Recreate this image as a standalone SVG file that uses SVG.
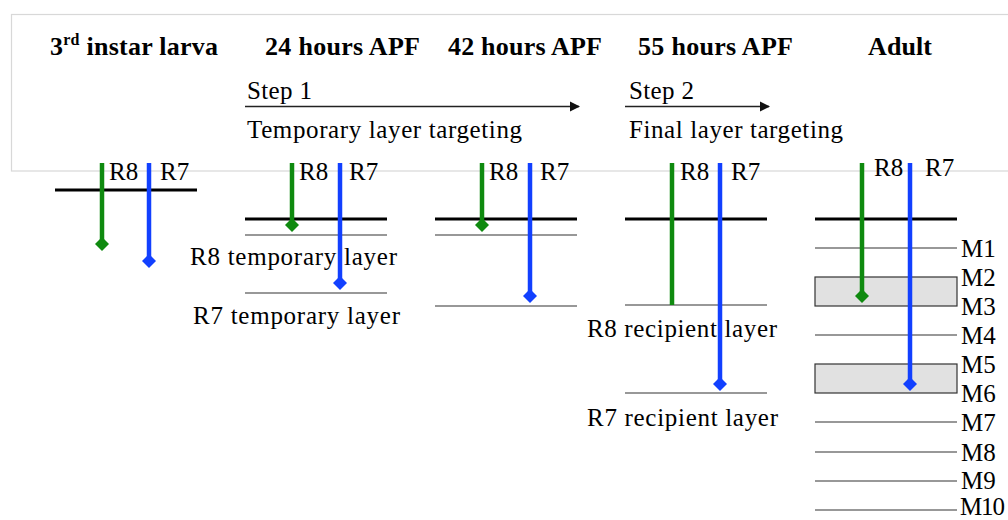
<svg xmlns="http://www.w3.org/2000/svg" width="1008" height="520" viewBox="0 0 1008 520">
<style>
.hd{font-family:"Liberation Serif","Times New Roman",serif;font-weight:bold;font-size:26px;fill:#000}
.tx{font-family:"Liberation Serif","Times New Roman",serif;font-size:25px;fill:#000}
.ul{stroke:#333;stroke-width:1.5;filter:url(#sh)}
.thick{stroke:#000;stroke-width:3}
.thin{stroke:#333;stroke-width:1.2}
.g{stroke:#0f8a0f;stroke-width:4.5;marker-end:url(#dg)}
.gn{stroke:#0f8a0f;stroke-width:4.5}
.b{stroke:#1240ff;stroke-width:4.5;marker-end:url(#db)}
.band{fill:#e1e1e1;stroke:#333;stroke-width:1.2}
.arr{stroke:#222;stroke-width:1.5;marker-end:url(#ah)}
</style>
<defs>
<filter id="sh" x="-5%" y="-200%" width="110%" height="500%">
<feDropShadow dx="0" dy="2" stdDeviation="1" flood-color="#000" flood-opacity="0.25"/>
</filter>
<marker id="dg" markerUnits="userSpaceOnUse" markerWidth="16" markerHeight="16" refX="8" refY="8" orient="0" viewBox="0 0 16 16">
<path d="M8 1 L15 8 L8 15 L1 8 Z" fill="#0f8a0f"/>
</marker>
<marker id="db" markerUnits="userSpaceOnUse" markerWidth="16" markerHeight="16" refX="8" refY="8" orient="0" viewBox="0 0 16 16">
<path d="M8 1 L15 8 L8 15 L1 8 Z" fill="#1240ff"/>
</marker>
<marker id="ah" markerUnits="userSpaceOnUse" markerWidth="12" markerHeight="12" refX="9" refY="5" orient="auto" viewBox="0 0 12 10">
<path d="M0 0 L10 5 L0 10 Z" fill="#111"/>
</marker>
</defs>
<rect width="1008" height="520" fill="#fff"/>
<rect x="11.5" y="14.5" width="1010" height="156.5" fill="none" stroke="#d8d8d8" stroke-width="1.2"/>

<g id="header-larva">
<text class="hd" x="50" y="55" textLength="168">3<tspan font-size="16" dy="-10">rd</tspan><tspan dy="10"> instar larva</tspan></text>
<line class="ul" x1="55" y1="64" x2="197" y2="64"/>
</g>
<g id="header-24h">
<text class="hd" x="265" y="55" textLength="155">24 hours APF</text>
<line class="ul" x1="245" y1="64" x2="387" y2="64"/>
</g>
<g id="header-42h">
<text class="hd" x="448" y="55" textLength="154">42 hours APF</text>
<line class="ul" x1="435" y1="64" x2="577" y2="64"/>
</g>
<g id="header-55h">
<text class="hd" x="638" y="55" textLength="155">55 hours APF</text>
<line class="ul" x1="625" y1="64" x2="767" y2="64"/>
</g>
<g id="header-adult">
<text class="hd" x="868" y="55" textLength="64">Adult</text>
<line class="ul" x1="815" y1="64" x2="957" y2="64"/>
</g>

<g id="step1">
<text class="tx" x="247" y="99" textLength="65">Step 1</text>
<text class="tx" x="247" y="138" textLength="275">Temporary layer targeting</text>
</g>
<g id="step2">
<text class="tx" x="629" y="99" textLength="65">Step 2</text>
<text class="tx" x="629" y="138" textLength="214">Final layer targeting</text>
</g>

<g id="stage-larva">
<line class="thick" x1="55" y1="190" x2="197" y2="190"/>
<text class="tx" x="109" y="180">R8</text>
<text class="tx" x="160" y="180">R7</text>
<line class="g" x1="102" y1="163" x2="102" y2="244"/>
<line class="b" x1="149" y1="163" x2="149" y2="261"/>
</g>

<g id="stage-24h">
<line class="thick" x1="245" y1="219" x2="387" y2="219"/>
<line class="thin" x1="245" y1="235" x2="387" y2="235"/>
<line class="thin" x1="245" y1="293" x2="387" y2="293"/>
<text class="tx" x="299" y="180">R8</text>
<text class="tx" x="349" y="180">R7</text>
<text class="tx" x="190" y="265" textLength="207">R8 temporary layer</text>
<text class="tx" x="193" y="324" textLength="207">R7 temporary layer</text>
<line class="g" x1="292" y1="163" x2="292" y2="225"/>
<line class="b" x1="340" y1="163" x2="340" y2="283"/>
</g>

<g id="stage-42h">
<line class="thick" x1="435" y1="219" x2="577" y2="219"/>
<line class="thin" x1="435" y1="235" x2="577" y2="235"/>
<line class="thin" x1="435" y1="306" x2="577" y2="306"/>
<text class="tx" x="489" y="180">R8</text>
<text class="tx" x="540" y="180">R7</text>
<line class="g" x1="482" y1="163" x2="482" y2="225"/>
<line class="b" x1="530" y1="163" x2="530" y2="296"/>
</g>

<g id="stage-55h">
<line class="thick" x1="625" y1="219" x2="767" y2="219"/>
<line class="thin" x1="625" y1="305" x2="767" y2="305"/>
<line class="thin" x1="625" y1="393" x2="767" y2="393"/>
<text class="tx" x="680" y="180">R8</text>
<text class="tx" x="731" y="180">R7</text>
<text class="tx" x="587" y="337" textLength="190">R8 recipient layer</text>
<text class="tx" x="587" y="426" textLength="191">R7 recipient layer</text>
<line class="gn" x1="672" y1="163" x2="672" y2="305"/>
<line class="b" x1="720" y1="163" x2="720" y2="384"/>
</g>

<g id="stage-adult">
<rect class="band" x="815" y="277" width="142" height="29"/>
<rect class="band" x="815" y="364" width="142" height="29"/>
<line class="thick" x1="815" y1="219" x2="957" y2="219"/>
<line class="thin" x1="815" y1="248" x2="957" y2="248"/>
<line class="thin" x1="815" y1="335" x2="957" y2="335"/>
<line class="thin" x1="815" y1="422" x2="957" y2="422"/>
<line class="thin" x1="815" y1="452" x2="957" y2="452"/>
<line class="thin" x1="815" y1="481" x2="957" y2="481"/>
<line class="thin" x1="815" y1="510" x2="957" y2="510"/>
<text class="tx" x="961" y="257">M1</text>
<text class="tx" x="961" y="286">M2</text>
<text class="tx" x="961" y="315">M3</text>
<text class="tx" x="961" y="344">M4</text>
<text class="tx" x="961" y="373">M5</text>
<text class="tx" x="961" y="402">M6</text>
<text class="tx" x="961" y="431">M7</text>
<text class="tx" x="961" y="461">M8</text>
<text class="tx" x="961" y="489">M9</text>
<text class="tx" x="960" y="515" font-size="22" textLength="45">M10</text>
<text class="tx" x="874" y="176">R8</text>
<text class="tx" x="925" y="176">R7</text>
<line class="g" x1="862" y1="163" x2="862" y2="296"/>
<line class="b" x1="910" y1="163" x2="910" y2="384"/>
</g>

<g id="connectors">
<line class="arr" x1="245" y1="106.5" x2="579" y2="106.5"/>
<line class="arr" x1="625" y1="106.5" x2="769" y2="106.5"/>
</g>
</svg>
